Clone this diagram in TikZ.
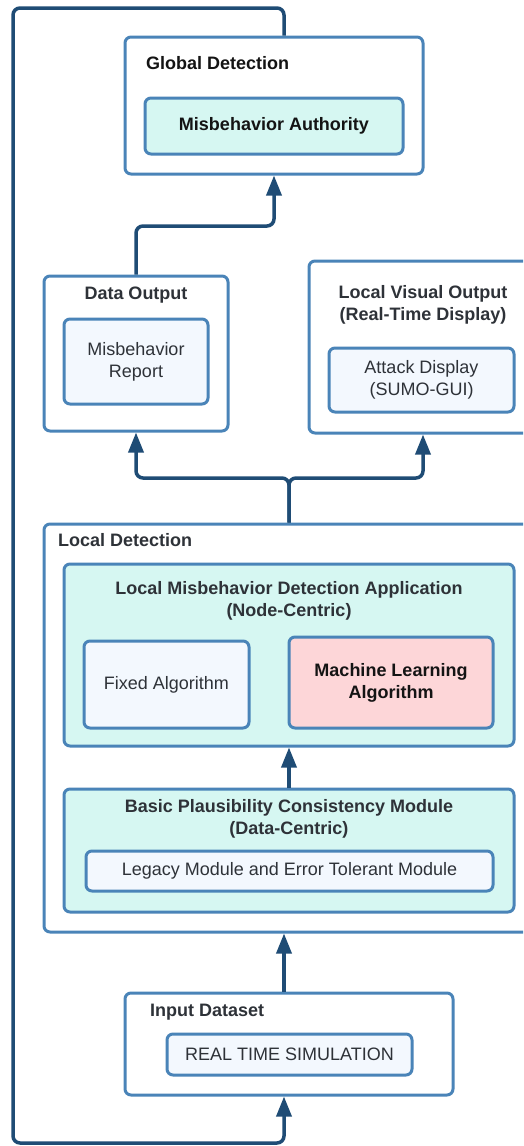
\documentclass[tikz,border=0pt]{standalone}
\usepackage{fontspec}
\setmainfont{Liberation Sans}
\usetikzlibrary{arrows.meta}
\definecolor{boxline}{RGB}{74,132,184}
\definecolor{connline}{RGB}{31,76,117}
\definecolor{cyanfill}{RGB}{214,247,242}
\definecolor{lightfill}{RGB}{243,248,254}
\definecolor{pinkfill}{RGB}{253,214,216}
\definecolor{txtdark}{RGB}{46,50,56}
\definecolor{txtblack}{RGB}{20,20,20}
\tikzset{
  box/.style={draw=boxline, line width=3pt, rounded corners=6pt, fill=white, inner sep=0pt},
  inbox/.style={box, fill=lightfill, text=txtdark, align=center, font=\fontsize{18}{22}\selectfont},
  cybox/.style={box, fill=cyanfill},
  ttl/.style={inner sep=0pt, text=txtdark, font=\fontsize{18}{22}\selectfont\bfseries, align=center},
  conn/.style={draw=connline, line width=3.5pt, rounded corners=7pt},
  arr/.style={-{Triangle[length=20pt,width=15pt]}}
}
\begin{document}
\begin{tikzpicture}[x=1pt,y=-1pt]
\path[use as bounding box, clip] (0,0) rectangle (523,1146);
% containers
\node[box, minimum width=298pt, minimum height=137pt] (gd) at (274,105.5) {};
\node[box, minimum width=184pt, minimum height=155pt] (do) at (136,353.5) {};
\node[box, minimum width=228pt, minimum height=172pt] (lvo) at (423,347) {};
\node[box, minimum width=490pt, minimum height=408pt] (ld) at (289,728) {};
\node[cybox, minimum width=450pt, minimum height=182pt] (lmda) at (289,655) {};
\node[cybox, minimum width=450pt, minimum height=123pt] (bpcm) at (289,850.5) {};
\node[box, minimum width=328pt, minimum height=102pt] (id) at (289,1044) {};
% inner boxes
\node[inbox, fill=cyanfill, text=txtblack, font=\fontsize{18}{22}\selectfont\bfseries, minimum width=258pt, minimum height=56pt] (ma) at (274,126) {Misbehavior Authority};
\node[inbox, minimum width=144pt, minimum height=85pt] (mr) at (136,361.5) {Misbehavior\\Report};
\node[inbox, minimum width=185pt, minimum height=64pt] (ad) at (421.5,380) {Attack Display\\(SUMO-GUI)};
\node[inbox, minimum width=165pt, minimum height=87pt] (fa) at (166.5,684.5) {Fixed Algorithm};
\node[inbox, fill=pinkfill, text=txtblack, font=\fontsize{18}{22}\selectfont\bfseries, minimum width=204pt, minimum height=91pt] (ml) at (391,682.5) {Machine Learning\\Algorithm};
\node[inbox, minimum width=407pt, minimum height=40pt] (lm) at (289.5,871) {Legacy Module and Error Tolerant Module};
\node[inbox, minimum width=245pt, minimum height=41pt] (rts) at (289.5,1054.5) {REAL TIME SIMULATION};
% titles
\node[ttl, text=txtblack, anchor=base west] (gdt) at (146,69.5) {Global Detection};
\node[ttl, anchor=base] (dot) at (136,299) {Data Output};
\node[ttl] (lvot) at (423,305) {Local Visual Output\\(Real-Time Display)};
\node[ttl, anchor=base west] (ldt) at (58,546.5) {Local Detection};
\node[ttl] (lmdat) at (289,600.5) {Local Misbehavior Detection Application\\(Node-Centric)};
\node[ttl] (bpcmt) at (289,819) {Basic Plausibility Consistency Module\\(Data-Centric)};
\node[ttl, anchor=base west] (idt) at (150,1016.5) {Input Dataset};
% helper coordinates
\coordinate (xa) at (284,0);
\coordinate (loopTL) at (13,8);
\coordinate (loopBL) at (13,1143);
\coordinate (split) at (289,478);
\coordinate (bend) at (0,226);
% connectors
\draw[conn, arr] (gd.north -| xa) |- (loopTL) -- (loopBL) -| (id.south -| xa);
\draw[conn, arr] (id.north -| xa) -- (ld.south -| xa);
\draw[conn, arr] (bpcm.north) -- (lmda.south);
\draw[conn, arr] (ld.north -| split) -- (split) -| (do.south);
\draw[conn, arr] (ld.north -| split) -- (split) -| (lvo.south);
\draw[conn, arr] (do.north) |- (gd.south |- bend) -- (gd.south);
\end{tikzpicture}
\end{document}
